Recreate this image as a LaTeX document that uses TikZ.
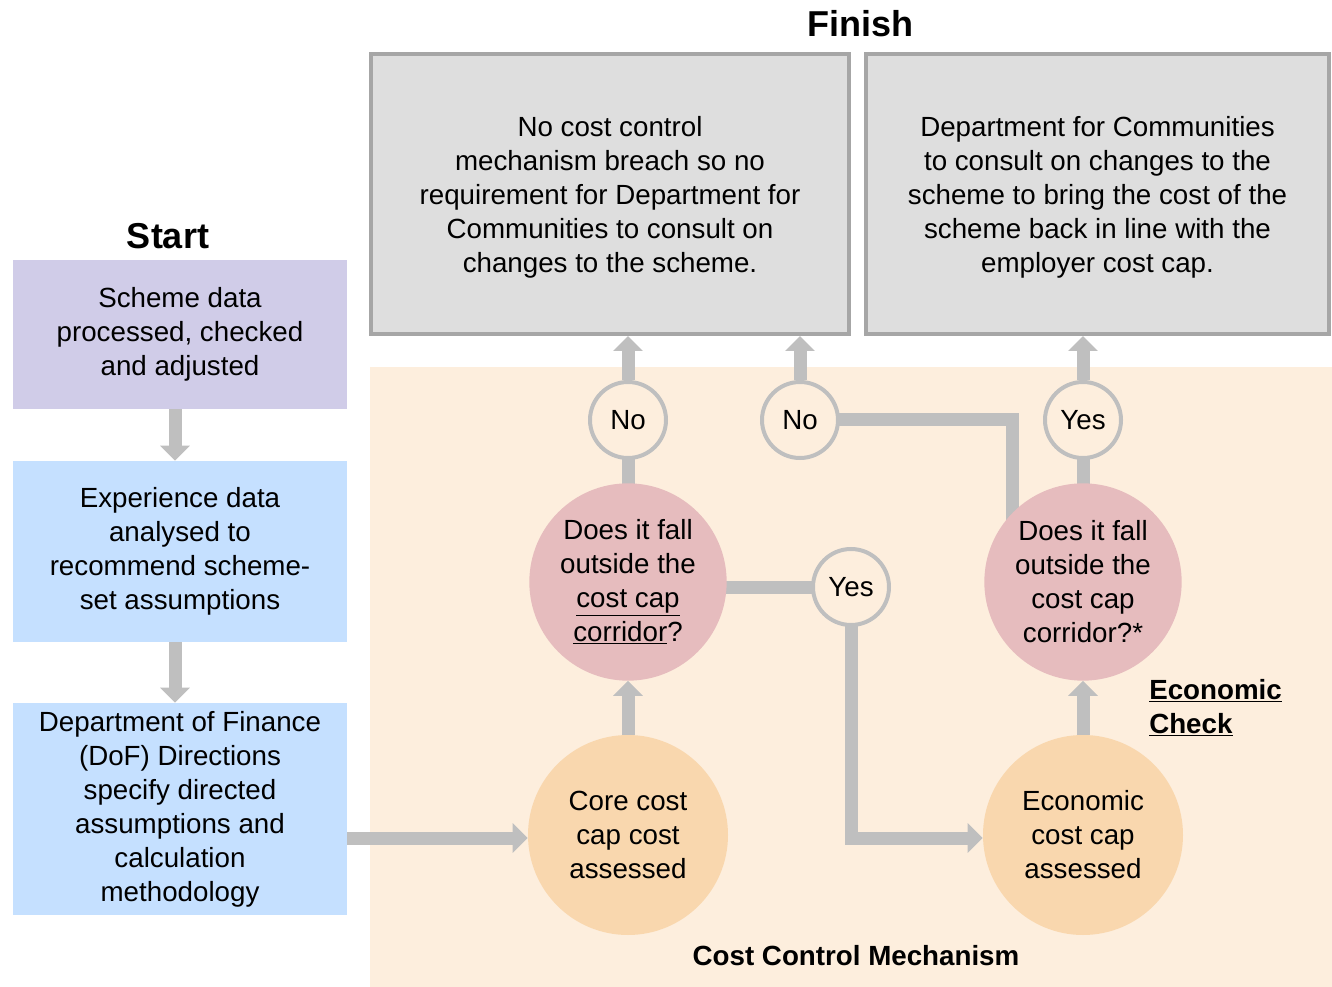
\documentclass[tikz,border=0pt]{standalone}
\usepackage{fontspec}
\setmainfont{Liberation Sans}
\usetikzlibrary{arrows.meta}

\definecolor{arrowgray}{RGB}{191,191,191}
\definecolor{boxline}{RGB}{166,166,166}
\definecolor{boxgray}{RGB}{222,222,222}
\definecolor{lavender}{RGB}{208,204,232}
\definecolor{skyblue}{RGB}{197,224,255}
\definecolor{peach}{RGB}{253,238,221}
\definecolor{apricot}{RGB}{249,215,174}
\definecolor{rosepink}{RGB}{230,188,190}

\pgfdeclarelayer{back}
\pgfdeclarelayer{links}
\pgfsetlayers{back,links,main}

\tikzset{
  txt/.style={font=\fontsize{20.8}{25.5}\selectfont, align=center, inner sep=0pt},
  heading/.style={font=\fontsize{27}{32}\selectfont\bfseries, inner sep=0pt},
  sidebox/.style={txt, rectangle, minimum width=250.5pt},
  finishbox/.style={txt, rectangle, draw=boxline, line width=3pt, fill=boxgray, minimum height=210pt},
  bigdisc/.style={txt, circle, minimum size=150pt},
  answer/.style={txt, circle, draw=arrowgray, line width=3pt, fill=peach, minimum size=57pt},
  flow/.style={draw=arrowgray, line width=9.75pt},
  flowarrow/.style={flow, -{Triangle[width=21.75pt,length=11.25pt]}},
}

\begin{document}
\begin{tikzpicture}[x=0.75pt,y=0.75pt,yscale=-1,xscale=1]
\useasboundingbox (0,0) rectangle (1332,987);

%Shape: Rectangle [cost control mechanism area]
\begin{pgfonlayer}{back}
\fill[peach] (370,367) rectangle (1332,987);
\end{pgfonlayer}

% Text Node
\node[heading] (start) at (168,236) {Start};
% Text Node
\node[heading] (finish) at (860,24) {Finish};

%Shape: Rectangle [left column]
\node[sidebox, fill=lavender, minimum height=111.75pt] (scheme) at (180,334.5) {Scheme data\\processed, checked\\and adjusted};
\node[sidebox, fill=skyblue, minimum height=135.75pt] (exper) at (180,551.5) {Experience data\\analysed to\\recommend scheme-\\set assumptions};
\node[sidebox, fill=skyblue, minimum height=159pt] (dof) at (180,809) {Department of Finance\\(DoF) Directions\\specify directed\\assumptions and\\calculation\\methodology};

%Shape: Rectangle [finish boxes]
\node[finishbox, minimum width=358.5pt] (nobreach) at (610,194) {\\[-5.5pt]No cost control\\mechanism breach so no\\requirement for Department for\\Communities to consult on\\changes to the scheme.};
\node[finishbox, minimum width=347.25pt] (consult) at (1097.5,194) {\\[-5.5pt]Department for Communities\\to consult on changes to the\\scheme to bring the cost of the\\scheme back in line with the\\employer cost cap.};

%Shape: Circle [assessments and questions]
\node[bigdisc, fill=apricot] (core) at (628,835) {Core cost\\cap cost\\assessed};
\node[bigdisc, fill=apricot] (econ) at (1083,835) {Economic\\cost cap\\assessed};
\node[bigdisc, fill=rosepink, minimum size=148pt] (qcore) at (628,582) {Does it fall\\outside the\\\underline{cost cap}\\\underline{corridor}?};
\node[bigdisc, fill=rosepink, minimum size=148pt] (qecon) at (1083,582) {Does it fall\\outside the\\cost cap\\corridor?*};

%Shape: Circle [answers]
\node[answer] (nocore) at (628,420) {No};
\node[answer] (noecon) at (800,420) {No};
\node[answer] (yescore) at (851,587) {Yes};
\node[answer] (yesecon) at (1083,420) {Yes};

% Text Node
\node[font=\fontsize{20.8}{25.5}\selectfont\bfseries, align=left, inner sep=0pt, anchor=west] (econcheck) at (1149,708) {\underline{Economic}\\\underline{Check}};
% Text Node
\node[font=\fontsize{20.8}{25.5}\selectfont\bfseries, inner sep=0pt] (ccm) at (856,956) {Cost Control Mechanism};

% connectors
\begin{pgfonlayer}{links}
\draw[flowarrow] ([xshift=-3.75pt]scheme.south) -- ([xshift=-3.75pt]exper.north);
\draw[flowarrow] ([xshift=-3.75pt]exper.south) -- ([xshift=-3.75pt]dof.north);
\draw[flowarrow] (dof.east |- 0,838) -- (core.west |- 0,838);
\draw[flowarrow] (core.north) -- (qcore.south);
\draw[flow] (qcore.center) -- (nocore.center);
\draw[flowarrow] (nocore.north) -- (nocore.north |- nobreach.south);
\draw[flowarrow] (noecon.north) -- (noecon.north |- nobreach.south);
\draw[flow] (noecon.center) -| ([xshift=-53.25pt]qecon.center);
\draw[flow] (yescore.center) -- (yescore.center -| qcore.center);
\draw[flowarrow] (yescore.center) |- (econ.west |- 0,838);
\draw[flowarrow] (econ.north) -- (qecon.south);
\draw[flow] (qecon.center) -- (yesecon.center);
\draw[flowarrow] (yesecon.north) -- (yesecon.north |- consult.south);
\end{pgfonlayer}

\end{tikzpicture}
\end{document}
